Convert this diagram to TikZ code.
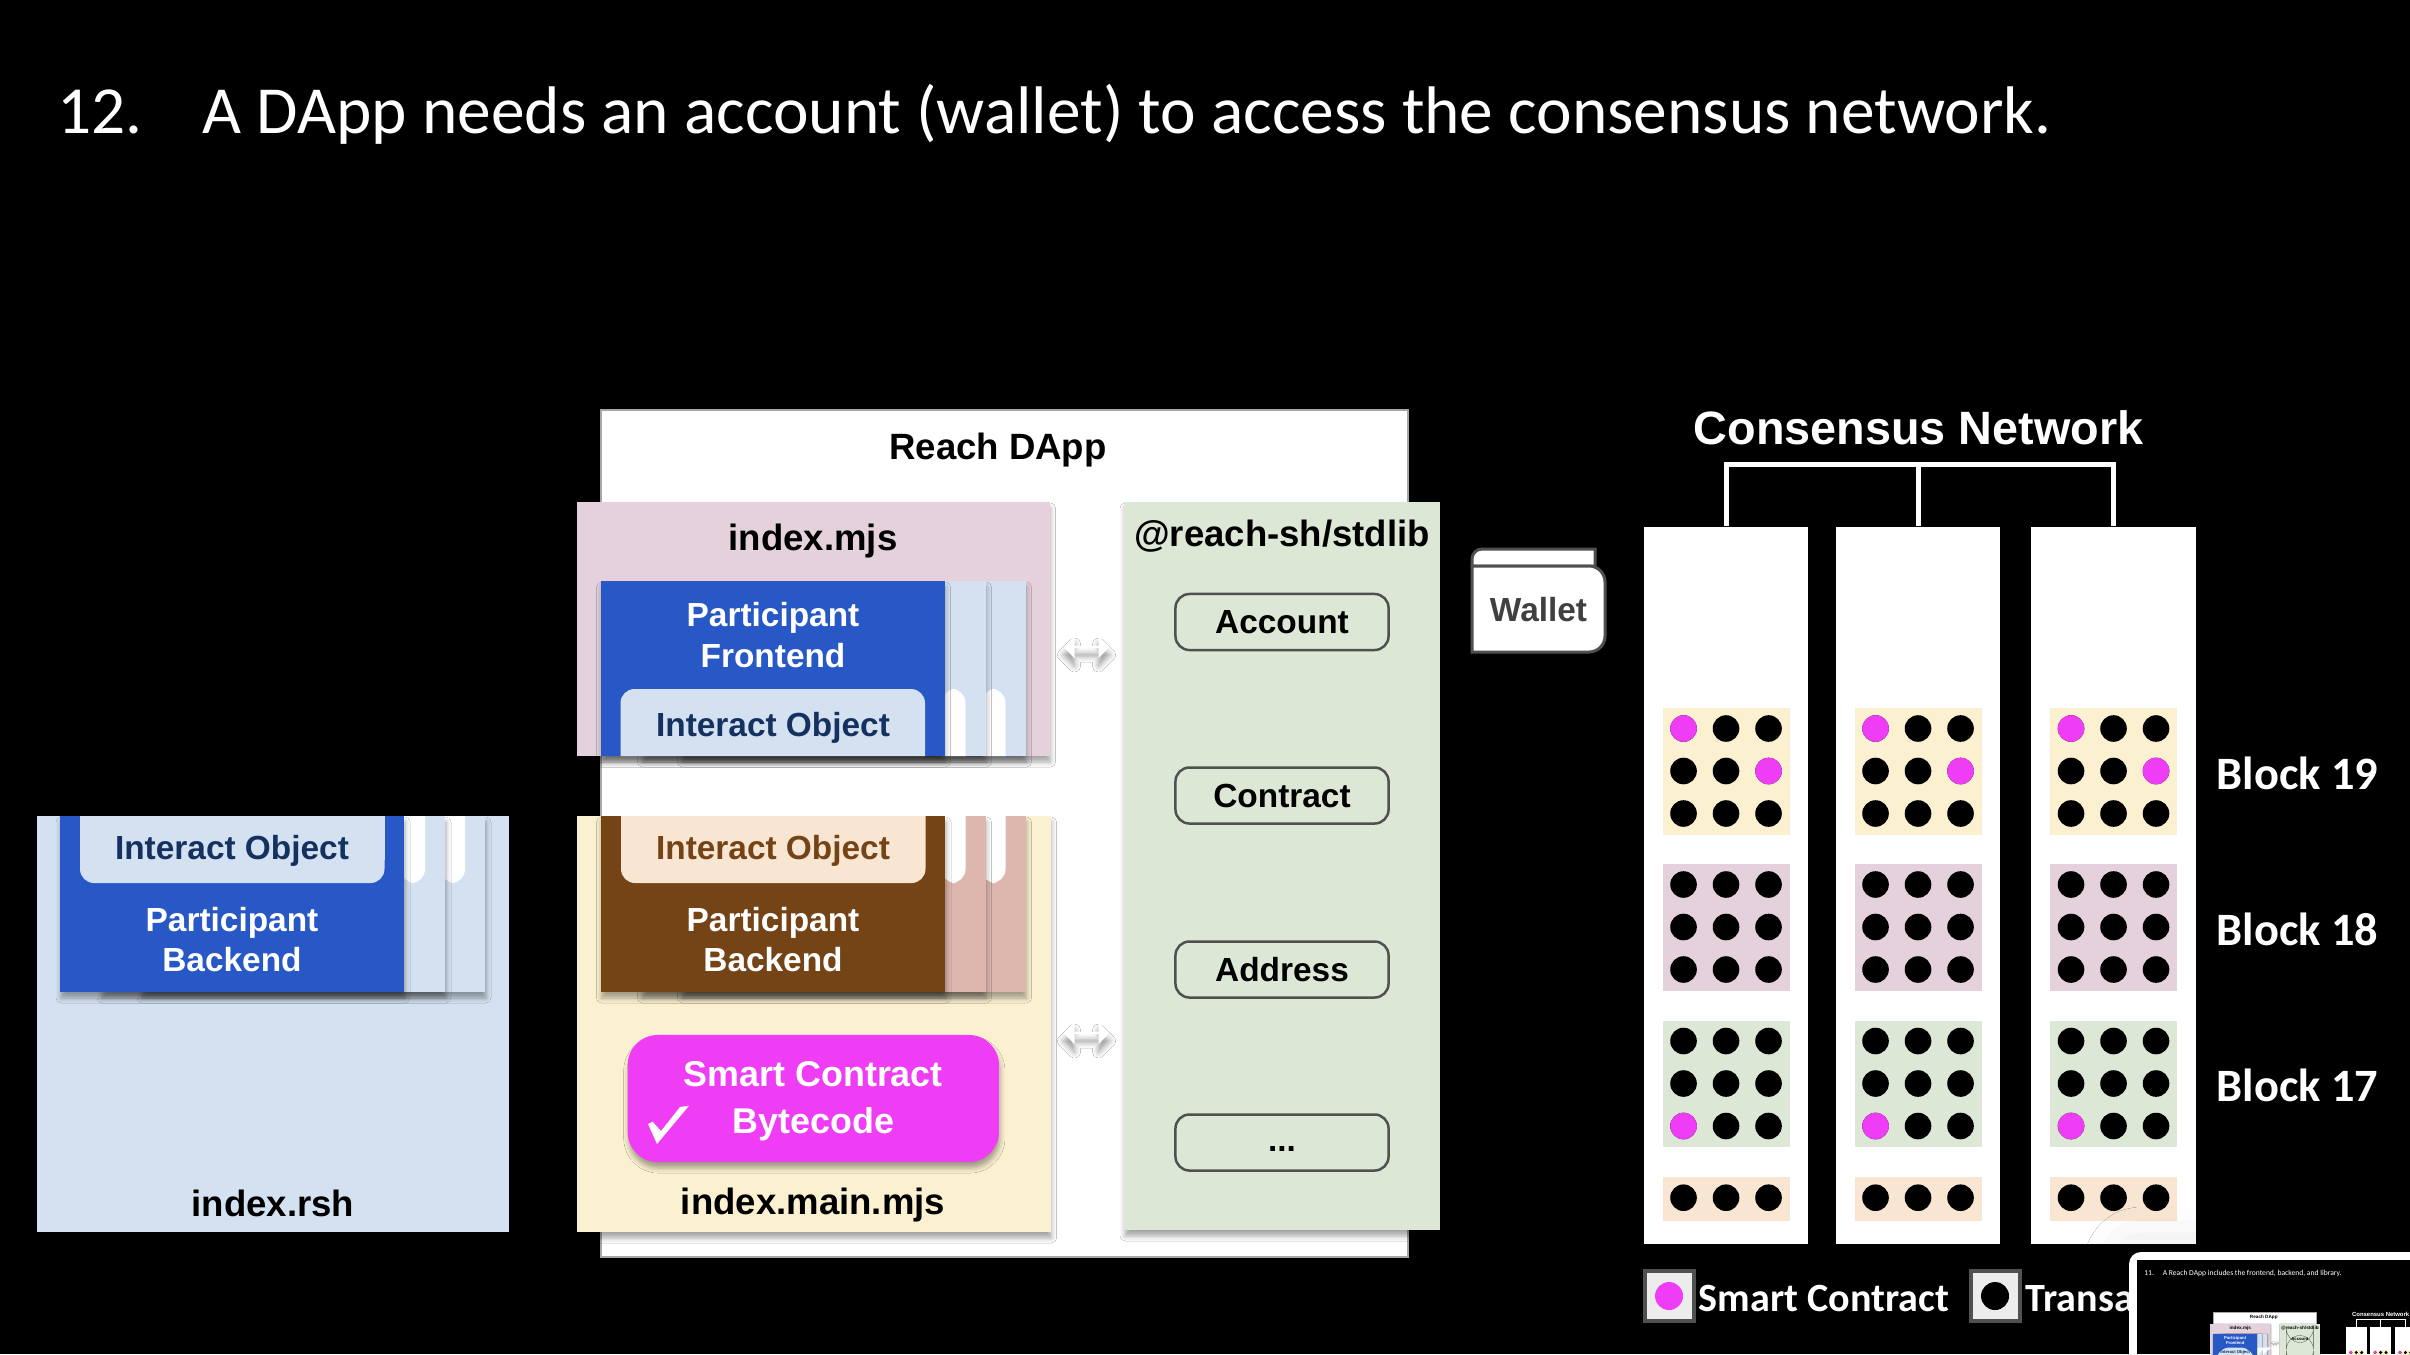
\documentclass[tikz,border=0pt]{standalone}
\usepackage{fontspec}
\usetikzlibrary{shapes.arrows,shadows.blur}
\newfontfamily\arialfont{Liberation Sans}
\newfontfamily\slidefont{Carlito}
\definecolor{cardblue}{HTML}{2858C6}
\definecolor{paleblue}{HTML}{D4E1F1}
\definecolor{navytext}{HTML}{14315F}
\definecolor{palepink}{HTML}{E4D1DC}
\definecolor{palegreen}{HTML}{DCE8D5}
\definecolor{cream}{HTML}{FBF0D0}
\definecolor{peach}{HTML}{F8E6D2}
\definecolor{cardbrown}{HTML}{744316}
\definecolor{backpink}{HTML}{DDB6AE}
\definecolor{smartpink}{HTML}{EE3DF5}
\definecolor{edgegray}{HTML}{505050}
\def\pxw{0.01cm}
\tikzset{
    softshadow/.style={blur shadow={shadow xshift=\pxw*1, shadow yshift=-\pxw*6, shadow blur radius=\pxw*5, shadow opacity=35}},
    headtext/.style={font=\arialfont\bfseries\fontsize{10.4pt}{12.5pt}\selectfont, inner sep=0pt},
    cardtext/.style={font=\arialfont\bfseries\fontsize{9.5pt}{11.4pt}\selectfont, inner sep=0pt, align=center},
    libbox/.style={draw=edgegray, line width=\pxw*2.5, rounded corners=0.14cm, minimum width=2.13cm, minimum height=0.56cm, inner sep=0pt, cardtext},
    colbox/.style={fill=white, minimum width=1.64cm, minimum height=7.17cm, inner sep=0pt, anchor=north},
    slidetext/.style={font=\slidefont\fontsize{19.15pt}{22pt}\selectfont, text=white, inner sep=0pt, anchor=base west},
    sidetext/.style={font=\slidefont\bfseries\fontsize{13.2pt}{15pt}\selectfont, text=white, inner sep=0pt, anchor=base west},
    legendtext/.style={font=\slidefont\bfseries\fontsize{11.4pt}{14pt}\selectfont, text=white, inner sep=0pt, anchor=base west},
    swapbox/.style={double arrow, fill=white, minimum width=0.22cm, minimum height=0.46cm, inner sep=0pt, double arrow head extend=0.06cm, blur shadow={shadow xshift=0pt, shadow yshift=-\pxw*8, shadow blur radius=\pxw*6, shadow opacity=40}},
    bus/.style={draw=white, line width=\pxw*5}
}
% three stacked cards behind a front card: x, top, bottom, colour, rounded y, flat y
\newcommand{\backcards}[6]{
    \foreach \off in {81,41} {
        \fill[#4, softshadow] ({#1+\off},#2) rectangle ({#1+344+\off},#3);
        \fill[white] ({#1+\off+300},#6) [rounded corners=0.14cm] -- ({#1+\off+300},#5) -- ({#1+\off+324},#5) [sharp corners] -- ({#1+\off+324},#6) -- cycle;
    }
}
\newcommand{\tabshape}[4]{% x left, x right, rounded y, flat y
    (#1,#4) [rounded corners=0.14cm] -- (#1,#3) -- (#2,#3) [sharp corners] -- (#2,#4) -- (#1,#4)
}
% the part that the slide and its thumbnail share
\newcommand{\dappnet}{
    \fill[white, draw=gray!70, line width=\pxw*2] (600.5,410) rectangle (1407.5,1257);
    \node[headtext] (dapptitle) at (998,450) {Reach DApp};
    % index.rsh
    \fill[paleblue] (36.5,816) rectangle (509,1232);
    \backcards{60}{816}{992}{paleblue}{883}{816}
    \fill[cardblue, softshadow] (60,816) rectangle (404,992);
    \fill[paleblue] \tabshape{80}{384.5}{883}{816} -- cycle;
    \fill[paleblue] (80,816) rectangle (384.5,860);
    \node[cardtext, text=navytext] (rshobject) at (232,851) {Interact Object};
    \node[cardtext, text=white] (rshbackend) at (232,939.5) {Participant\\Backend};
    \node[headtext] (rshname) at (273,1203) {index.rsh};
    % index.mjs
    \fill[palepink, softshadow] (577,502) rectangle (1049.5,756);
    \node[headtext] (mjsname) at (813,541) {index.mjs};
    \backcards{600.5}{581}{756}{paleblue}{689}{756}
    \fill[cardblue, softshadow] (600.5,581) rectangle (944.5,756);
    \fill[paleblue] \tabshape{620.5}{925}{689}{756} -- cycle;
    \node[cardtext, text=white] (frontend) at (773,635) {Participant\\Frontend};
    \node[cardtext, text=navytext] (mjsobject) at (773,728) {Interact Object};
    % index.main.mjs
    \fill[cream, softshadow] (577,816) rectangle (1050.5,1232);
    \backcards{600.5}{816}{992}{backpink}{883}{816}
    \fill[cardbrown, softshadow] (600.5,816) rectangle (945,992);
    \fill[peach] \tabshape{621}{925.5}{883}{816} -- cycle;
    \node[cardtext, text=cardbrown] (mainobject) at (773,851) {Interact Object};
    \node[cardtext, text=white] (backend) at (773,939.5) {Participant\\Backend};
    \node[smartbox] (bytecode) at (813.3,1098.5) {};
    \node[smarttext] (bytetext) at (813.3,1101) {Smart Contract\\Bytecode};
    \fill[white] (648,1124) -- (657,1144) -- (689,1105.7) -- (680,1107) -- (661,1131) -- (652.6,1121.7) -- cycle;
    \node[headtext] (mainname) at (813,1205.5) {index.main.mjs};
    % library
    \fill[palegreen, softshadow] (1124,502) rectangle (1440,1230);
    \node[headtext] (libname) at (1282,536) {@reach-sh/stdlib};
    \node[libbox] (account) at (1282,622) {Account};
    \node[libbox] (contract) at (1282,795.5) {Contract};
    \node[libbox] (address) at (1282,969.5) {Address};
    \node[libbox] (morebox) at (1282,1142.5) {};
    \node[cardtext] (more) at (1282,1149) {...};
    \node[swapbox] (swaptop) at (1086.5,647) {};
    \node[swapbox] (swapbottom) at (1086.5,1033) {};
    % network
    \node[headtext, font=\arialfont\bfseries\fontsize{13.3pt}{16pt}\selectfont, text=white] (nettitle) at (1918.5,428) {Consensus Network};
    \node[colbox] (col1) at (1726,526) {};
    \node[colbox] (col2) at (1918,526) {};
    \node[colbox] (col3) at (2113.5,526) {};
    \coordinate (bustop) at (1918,464);
    \draw[bus] (col1.north) |- (bustop) -| (col3.north);
    \draw[bus] (col2.north) -- (bustop);
    \foreach \cx in {1726,1918,2113.5} {
        \foreach \by/\bc in {708/cream,864/palepink,1020.5/palegreen} {
            \fill[\bc] ({\cx-63.5},\by) rectangle ({\cx+63.5},\by+126.5);
            \foreach \row in {0,1,2} {
                \foreach \dx in {-42.5,0,42.5} {
                    \fill ({\cx+\dx},{\by+20.5+42.5*\row}) circle [radius=13.3];
                }
            }
        }
        \fill[smartpink] ({\cx-42.5},728.5) circle [radius=13.3]; % block 19
        \fill[smartpink] ({\cx+42.5},771) circle [radius=13.3];
        \fill[smartpink] ({\cx-42.5},1126) circle [radius=13.3]; % block 17
        \fill[peach] ({\cx-63.5},1176.7) rectangle ({\cx+63.5},1220.7);
        \foreach \dx in {-42.5,0,42.5} {
            \fill ({\cx+\dx},1197.7) circle [radius=13.3];
        }
    }
}
\begin{document}
\begin{tikzpicture}[x=0.01cm, y=-0.01cm,
    smartbox/.style={fill=smartpink, rounded corners=0.3cm, minimum width=3.71cm, minimum height=1.27cm, inner sep=0pt, softshadow},
    smarttext/.style={align=center, text=white, inner sep=0pt, font=\arialfont\bfseries\fontsize{10.2pt}{13.4pt}\selectfont}]
\useasboundingbox (0,0) rectangle (2410,1354);
\fill[black] (0,0) rectangle (2410,1354);
\node[slidetext] (number) at (57,133) {12.};
\node[slidetext] (title) at (202,133) {A DApp needs an account (wallet) to access the consensus network.};
\dappnet
% wallet
\draw[fill=white, draw=edgegray, line width=\pxw*3] (1472,566) [rounded corners=0.1cm] -- (1472,549) [sharp corners] -- (1595,549) -- (1595,566) -- cycle;
\draw[fill=white, draw=edgegray, line width=\pxw*3] (1472,566) -- (1472,652) [rounded corners=0.16cm] -- (1605,652) -- (1605,566) [sharp corners] -- cycle;
\node[cardtext, text=edgegray!80!black] (wallet) at (1538.5,610) {Wallet};
% block labels
\node[sidetext] (block19) at (2216,789.5) {Block 19};
\node[sidetext] (block18) at (2216,945.5) {Block 18};
\node[sidetext] (block17) at (2216,1101.5) {Block 17};
% legend
\draw[fill=gray!15, draw=edgegray, line width=\pxw*4] (1645,1271) rectangle (1694,1321);
\fill[smartpink] (1669,1296) circle [radius=14];
\node[legendtext] (legendsmart) at (1698,1311) {Smart Contract};
\draw[fill=gray!15, draw=edgegray, line width=\pxw*4] (1971,1271) rectangle (2020,1321);
\fill[black] (1995,1296) circle [radius=14];
\node[legendtext] (legendtrans) at (2025,1311) {Transa};
% thumbnail of the previous slide
\fill[white, rounded corners=0.12cm, blur shadow={shadow xshift=0pt, shadow yshift=0pt, shadow blur radius=0.45cm, shadow opacity=12}] (2129,1252) rectangle (2470,1400);
\fill[black] (2137,1260) rectangle (2410,1354);
\begin{scope}
\clip (2137,1260) rectangle (2410,1354);
\begin{scope}[shift={(2137,1260)}, scale=0.127, transform shape, name prefix=thumb-]
\def\pxw{0.00127cm}
\node[slidetext, font=\slidefont\fontsize{17pt}{20pt}\selectfont] (number) at (57,118) {11.};
\node[slidetext, font=\slidefont\fontsize{17pt}{20pt}\selectfont] (title) at (202,118) {A Reach DApp includes the frontend, backend, and library.};
\dappnet
\end{scope}
\end{scope}
\end{tikzpicture}
\end{document}
